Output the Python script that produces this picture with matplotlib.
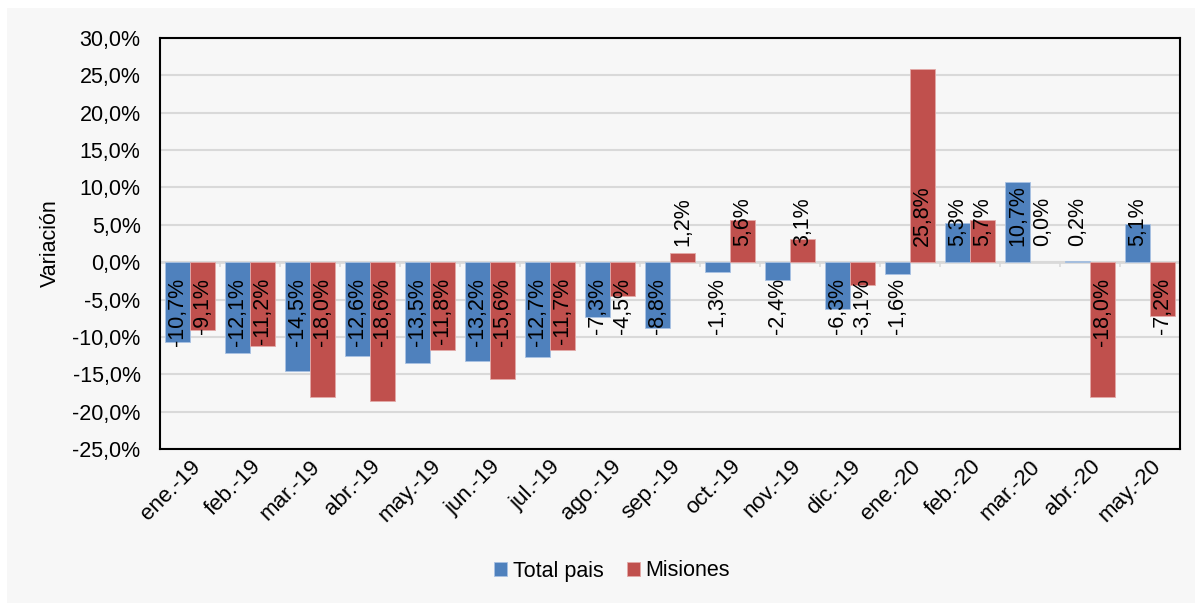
import numpy as np
import matplotlib.pyplot as plt
from matplotlib.patches import Rectangle

plt.rcParams['font.family'] = ['Liberation Sans', 'DejaVu Sans']

meses = ["ene.-19", "feb.-19", "mar.-19", "abr.-19", "may.-19", "jun.-19",
         "jul.-19", "ago.-19", "sep.-19", "oct.-19", "nov.-19", "dic.-19",
         "ene.-20", "feb.-20", "mar.-20", "abr.-20", "may.-20"]
total_pais = [-10.7, -12.1, -14.5, -12.6, -13.5, -13.2, -12.7, -7.3, -8.8,
              -1.3, -2.4, -6.3, -1.6, 5.3, 10.7, 0.2, 5.1]
misiones = [-9.1, -11.2, -18.0, -18.6, -11.8, -15.6, -11.7, -4.5, 1.2,
            5.6, 3.1, -3.1, 25.8, 5.7, 0.0, -18.0, -7.2]

azul = "#4F81BD"
rojo = "#C0504D"
fondo = "#F7F7F7"
fs = 15.5

fig = plt.figure(figsize=(12.01, 6.03), dpi=100, facecolor="white")
fig.patches.append(Rectangle((7 / 1201, 0), 1188 / 1201, 595 / 603,
                             transform=fig.transFigure, facecolor=fondo,
                             edgecolor="none", zorder=-10))
ax = fig.add_axes([160 / 1201, 1 - 449 / 603, 1020 / 1201, 411 / 603])
ax.set_facecolor(fondo)

x = np.arange(len(meses))
w = 0.415
b1 = ax.bar(x - w / 2, total_pais, w, color=azul, edgecolor="#A9C2E3",
            linewidth=0.6, label="Total pais", zorder=3)
b2 = ax.bar(x + w / 2, misiones, w, color=rojo, edgecolor="#E3A9A8",
            linewidth=0.6, label="Misiones", zorder=3)
for p in list(b1) + list(b2):
    if p.get_height() == 0:
        p.set_linewidth(0)


def etiqueta(v):
    return f"{v:.1f}%".replace(".", ",")


for serie, pos in ((total_pais, x - w / 2), (misiones, x + w / 2)):
    for xi, v in zip(pos, serie):
        if v >= 0:
            ax.text(xi, 2.2, etiqueta(v), rotation=90, ha="center", va="bottom",
                    fontsize=fs, zorder=5)
        else:
            ax.text(xi, -2.1, etiqueta(v), rotation=90, ha="center", va="top",
                    fontsize=fs, zorder=5)

ax.set_ylim(-25, 30)
ax.set_xlim(-0.5, len(meses) - 0.5)
ax.set_yticks(np.arange(-25, 31, 5))
ax.set_yticklabels([etiqueta(t) for t in np.arange(-25, 31, 5)], fontsize=fs)
ax.yaxis.grid(True, color="#D9D9D9", linewidth=1.5, zorder=0)
ax.axhline(0, color="#D9D9D9", linewidth=2, zorder=2)
ax.vlines(np.arange(len(meses) + 1) - 0.5, -0.7, 0, color="#D9D9D9",
          linewidth=1.2, zorder=2)
ax.tick_params(axis="y", length=0, pad=14)
ax.tick_params(axis="x", length=0, pad=5)
ax.set_xticks(x)
ax.set_xticklabels(meses, rotation=45, ha="right", rotation_mode="anchor",
                   fontsize=16)
ax.set_ylabel("Variación", fontsize=fs, labelpad=8)
for s in ax.spines.values():
    s.set_color("black")
    s.set_linewidth(1.5)

ax.legend(loc="center", bbox_to_anchor=(612 / 1201, 1 - 571 / 603),
          bbox_transform=fig.transFigure, ncol=2, frameon=False,
          fontsize=fs, handlelength=0.6, handleheight=0.6,
          handletextpad=0.25, columnspacing=1.1)

fig.savefig("out.png", dpi=100, facecolor=fig.get_facecolor())
